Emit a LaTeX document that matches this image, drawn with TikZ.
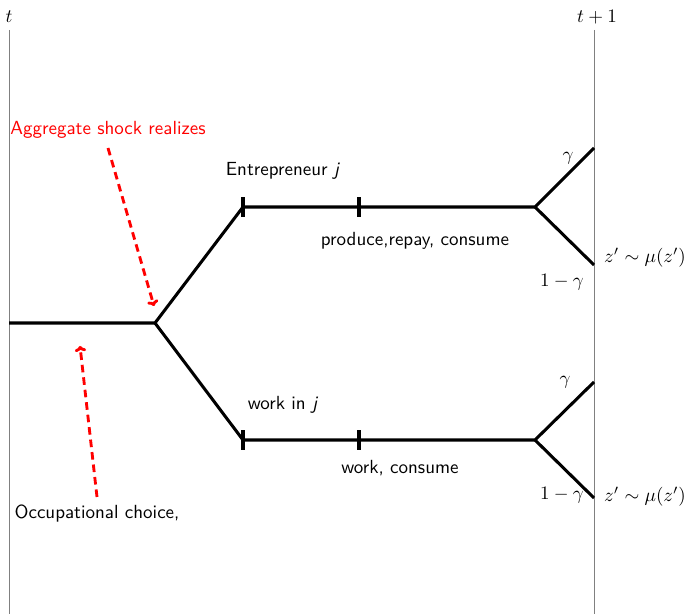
\documentclass[tikz,border=0pt]{standalone}
\usetikzlibrary{arrows.meta}
\begin{document}
\begin{tikzpicture}[x=0.5263pt,y=-0.5263pt,
  axis/.style={draw=gray,line width=0.5pt},
  path/.style={draw=black,line width=1.6pt},
  tick/.style={draw=black,line width=1.6pt},
  lbl/.style={font=\sffamily,inner sep=1pt},
  redlbl/.style={font=\sffamily,text=red,inner sep=1pt},
  redarrow/.style={draw=red,line width=1.5pt,dash pattern=on 4pt off 2.6pt,-{To[length=3pt,width=6pt]}}]
\useasboundingbox (0,0) rectangle (698,614);
% time axes
\coordinate (TT) at (9,30); \coordinate (TB) at (9,614);
\coordinate (SS) at (594,30); \coordinate (SB) at (594,614);
\draw[axis] (TT) -- (TB);
\draw[axis] (SS) -- (SB);
\node (t) at (9,17) {$t$};
\node (t1) at (597,17) {$t+1$};
% tree
\coordinate (O) at (9,323);
\coordinate (B) at (155,323);
\coordinate (U1) at (243,207);
\coordinate (U2) at (359,207);
\coordinate (U3) at (535,207);
\coordinate (U4) at (594,148);
\coordinate (U5) at (594,265);
\coordinate (L1) at (243,440);
\coordinate (L2) at (359,440);
\coordinate (L3) at (535,440);
\coordinate (L4) at (594,382);
\coordinate (L5) at (594,498);
\draw[path,line join=miter] (O) -- (B) -- (U1) -- (U3) -- (U4);
\draw[path] (U3) -- (U5);
\draw[path,line join=miter] (B) -- (L1) -- (L3) -- (L4);
\draw[path] (L3) -- (L5);
\foreach \p in {U1,U2,L1,L2}{
  \draw[tick] ([yshift=-10*0.5263pt]\p) -- ([yshift=10*0.5263pt]\p);
}
% labels
\node[lbl] (ent) at (283,171) {Entrepreneur \textit{j}};
\node[lbl] (prod) at (415,241) {produce,repay, consume};
\node[lbl] (wj) at (283,405) {work in \textit{j}};
\node[lbl] (wc) at (400,468) {work, consume};
\node (g1) at (568,158) {$\gamma$};
\node (ng1) at (562,282) {$1-\gamma$};
\node (z1) at (645,258) {$z'\sim\mu(z')$};
\node (g2) at (565,382) {$\gamma$};
\node (ng2) at (562,495) {$1-\gamma$};
\node (z2) at (645,497) {$z'\sim\mu(z')$};
% red annotations
\node[redlbl] (agg) at (108,130) {Aggregate shock realizes};
\coordinate (aggS) at (108,148);
\coordinate (aggE) at (154,306);
\draw[redarrow] (aggS) -- (aggE);
\node[lbl] (occ) at (97,514) {Occupational choice,};
\coordinate (occS) at (97,497);
\coordinate (occE) at (80,346);
\draw[redarrow] (occS) -- (occE);
\end{tikzpicture}
\end{document}
